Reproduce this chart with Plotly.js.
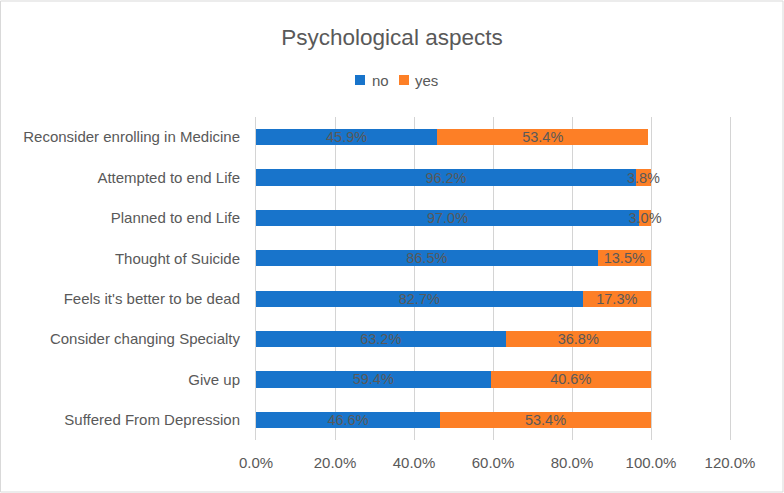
<!DOCTYPE html>
<html><head><meta charset="utf-8">
<script src="https://cdn.plot.ly/plotly-3.0.1.min.js"></script>
<style>html,body{margin:0;padding:0;background:#fff}#c{width:784px;height:493px}</style>
</head><body><div id="c"></div>
<script>
const categories = ["Suffered From Depression","Give up","Consider changing Specialty","Feels it's better to be dead","Thought of Suicide","Planned to end Life","Attempted to end Life","Reconsider enrolling in Medicine"];
const seriesNames = ["no","yes"];
const noValues = [0.466,0.594,0.632,0.827,0.865,0.970,0.962,0.459];
const yesValues = [0.534,0.406,0.368,0.173,0.135,0.030,0.038,0.534];
const xTicks = [0,0.2,0.4,0.6,0.8,1.0,1.2];
const xTickLabels = ["0.0%","20.0%","40.0%","60.0%","80.0%","100.0%","120.0%"];

const FONT = 'Liberation Sans, Arial, sans-serif';
const GRID = '#d4d4d4';
const COLORS = ['#1874CB','#FD7F26'];
const fmt = v => (v*100).toFixed(1) + "%";
const common = {type:'bar', orientation:'h', y:categories, textposition:'inside', insidetextanchor:'middle', constraintext:'none', textangle:0, cliponaxis:false, textfont:{color:'#595959', size:14.5, family:FONT}, hoverinfo:'none', showlegend:false};
const traces = [
  Object.assign({}, common, {name:seriesNames[0], x:noValues, text:noValues.map(fmt), marker:{color:COLORS[0]}}),
  Object.assign({}, common, {name:seriesNames[1], x:yesValues, text:yesValues.map(fmt), marker:{color:COLORS[1]}})
];
// manual legend (pixel layout converted to paper coordinates)
const PX = p => (p-256)/474, PY = p => 1 + (117-p)/323;
const legSq = [355, 399], legTxt = [370, 413];
const shapes = [{type:'rect', xref:'paper', yref:'paper', x0:-255.5/474, x1:1+53/474, y0:-52/323, y1:1+116/323, line:{color:'#d9d9d9', width:1}, fillcolor:'rgba(0,0,0,0)', layer:'below'}];
const annotations = [];
seriesNames.forEach((n,i)=>{
  shapes.push({type:'rect', xref:'paper', yref:'paper', x0:PX(legSq[i]), x1:PX(legSq[i]+10), y0:PY(85), y1:PY(75), fillcolor:COLORS[i], line:{width:0}});
  annotations.push({xref:'paper', yref:'paper', x:PX(legTxt[i]), y:PY(80), xanchor:'left', yanchor:'middle', text:n, showarrow:false, font:{size:15, color:'#595959', family:FONT}});
});
const layout = {
  width:784, height:493,
  margin:{l:256, r:54, t:117, b:53},
  barmode:'stack', bargap:0.6, showlegend:false,
  paper_bgcolor:'#fff', plot_bgcolor:'#fff',
  font:{family:FONT, color:'#595959', size:15},
  title:{text:'Psychological aspects', xref:'container', x:0.5, xanchor:'center', yref:'container', y:0.925, yanchor:'middle', font:{size:22.5, color:'#595959'}},
  xaxis:{range:[0,1.2], tickmode:'array', tickvals:xTicks, ticktext:xTickLabels, showgrid:true, gridcolor:GRID, gridwidth:1, zeroline:false, showline:false, ticks:'outside', ticklen:9, tickcolor:'rgba(0,0,0,0)', tickfont:{size:15, color:'#595959'}, fixedrange:true},
  yaxis:{showgrid:false, zeroline:false, showline:true, mirror:true, linecolor:GRID, linewidth:1, layer:'below traces', ticks:'outside', ticklen:12, tickcolor:'rgba(0,0,0,0)', tickfont:{size:15, color:'#595959'}, automargin:false, fixedrange:true},
  shapes: shapes, annotations: annotations
};
Plotly.newPlot('c', traces, layout, {staticPlot:true});
</script></body></html>
